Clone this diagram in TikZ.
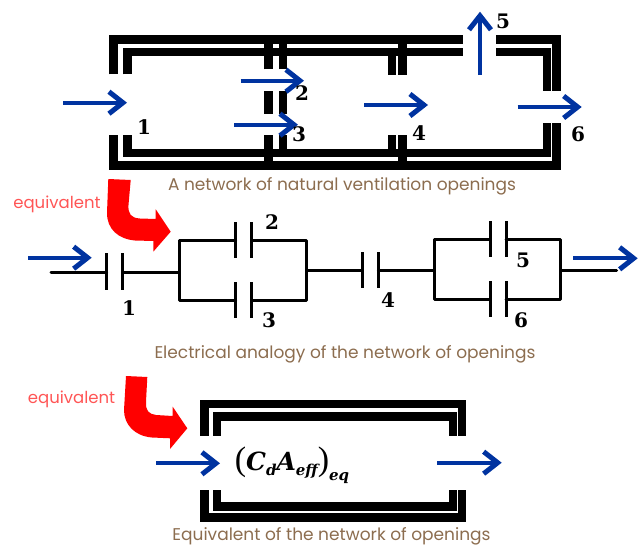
\documentclass[tikz,border=0pt]{standalone}
\usepackage{fontspec}
\setmainfont{Poppins}
\newfontfamily\lblfont{Liberation Serif}
\newfontfamily\formfont{DejaVu Serif}
\usetikzlibrary{arrows.meta}
\definecolor{flowblue}{HTML}{0033A0}
\definecolor{capbrown}{HTML}{8C6D4F}
\definecolor{eqred}{HTML}{FF5555}
\tikzset{
  wall/.style={line width=8.4pt,draw=black},
  wire/.style={line width=3pt,draw=black,line cap=round,line join=round},
  plate/.style={line width=3pt,draw=black},
  flow/.style={line width=4pt,draw=flowblue,-{Straight Barb[length=14pt,width=22pt,line width=5pt]}},
  redbend/.style={fill=red,draw=none},
  caption/.style={text=capbrown,font=\fontsize{17}{19}\selectfont,inner sep=0pt},
  eqtext/.style={text=eqred,font=\fontsize{16.5}{18}\selectfont,inner sep=0pt},
  num/.style={font=\formfont\bfseries\fontsize{20}{22}\selectfont,inner sep=0pt}
}
\begin{document}
\begin{tikzpicture}[x=1pt,y=-1pt]
\useasboundingbox (0,0) rectangle (640,546);
% top network: outer and inner walls
\draw[wall] (113.5,74.3) -- (113.5,39.5) -- (463.3,39.5);
\draw[wall] (127.5,74.3) -- (127.5,52) -- (463.3,52);
\draw[wall] (496,39.5) -- (556.5,39.5) -- (556.5,90.7);
\draw[wall] (496,52) -- (547,52) -- (547,90.7);
\draw[wall] (113.5,135) -- (113.5,165.5) -- (556.5,165.5) -- (556.5,123);
\draw[wall] (127.5,135) -- (127.5,153) -- (547,153) -- (547,123);
% interior walls
\foreach \wx in {268.5,282.7}{
  \draw[wall] (\wx,69.3) -- (\wx,44);
  \draw[wall] (\wx,91) -- (\wx,114);
}
\draw[wall] (268.5,135) -- (268.5,170);
\draw[wall] (282.7,135) -- (282.7,157);
\draw[wall] (268.5,35) -- (268.5,69.3);
\draw[wall] (392,74.7) -- (392,48);
\draw[wall] (402.3,74.7) -- (402.3,35);
\draw[wall] (392,135) -- (392,157);
\draw[wall] (402.3,135) -- (402.3,170);
% top flows
\coordinate (f1a) at (63,102.7);  \coordinate (f1b) at (127,102.7);
\coordinate (f2a) at (240.7,80.7);\coordinate (f2b) at (304,80.7);
\coordinate (f3a) at (234,124.7); \coordinate (f3b) at (298,124.7);
\coordinate (f4a) at (364,105);   \coordinate (f4b) at (428,105);
\coordinate (f5a) at (480,75);    \coordinate (f5b) at (480,11.7);
\coordinate (f6a) at (517.7,107); \coordinate (f6b) at (581.7,107);
\draw[flow] (f1a) -- (f1b);
\draw[flow] (f2a) -- (f2b);
\draw[flow] (f3a) -- (f3b);
\draw[flow] (f4a) -- (f4b);
\draw[flow] (f5a) -- (f5b);
\draw[flow] (f6a) -- (f6b);
\node[num] (n1) at (144,127) {1};
\node[num] (n2) at (302,93) {2};
\node[num] (n3) at (299,134) {3};
\node[num] (n4) at (419,133) {4};
\node[num] (n5) at (503,21) {5};
\node[num] (n6) at (578,134) {6};
\node[caption] (cap1) at (342,186) {A network of natural ventilation openings};
% first bend arrow
\path[redbend] (108.3,179) -- (130.7,180) -- (128.5,205)
  .. controls (128,214) and (131,218) .. (140,218.5)
  -- (155.7,219) -- (155.7,209.3) -- (170.7,231.7) -- (153.3,251.7) -- (153.5,241)
  -- (135,240.5) .. controls (118,239) and (107,229) .. (107,213) -- cycle;
\node[eqtext] (eq1) at (57,204) {equivalent};
% circuit
\coordinate (inL) at (51,272);
\coordinate (c1a) at (106.7,272); \coordinate (c1b) at (122.7,272);
\coordinate (j1) at (179,272);
\coordinate (j2) at (306.7,270.7);
\coordinate (c4a) at (362.3,270.7); \coordinate (c4b) at (378.3,270.7);
\coordinate (j3) at (434,270.7);
\coordinate (j4) at (560.7,270.7);
\coordinate (outR) at (616.7,270.7);
\draw[wire] (inL) -- (c1a);
\draw[wire] (c1b) -- (j1);
\draw[wire] (j2) -- (c4a);
\draw[wire] (c4b) -- (j3);
\draw[wire] (j4) -- (outR);
\draw[plate] (106.7,253) -- (106.7,290);
\draw[plate] (122.7,253) -- (122.7,290);
\draw[plate] (362.3,252.3) -- (362.3,288.3);
\draw[plate] (378.3,252.3) -- (378.3,288.3);
% parallel branches 2/3
\draw[wire] (235.7,240.7) -- (179,240.7) -- (179,300.7) -- (235.7,300.7);
\draw[wire] (251.7,240.7) -- (306.7,240.7) -- (306.7,300.7) -- (251.7,300.7);
\draw[plate] (235.7,222) -- (235.7,258);
\draw[plate] (251.7,222) -- (251.7,258);
\draw[plate] (235.7,282.3) -- (235.7,318.3);
\draw[plate] (251.7,282.3) -- (251.7,318.3);
% parallel branches 5/6
\draw[wire] (490,239.7) -- (434,239.7) -- (434,299.3) -- (490,299.3);
\draw[wire] (506,239.7) -- (560.7,239.7) -- (560.7,299.3) -- (506,299.3);
\draw[plate] (490,221.3) -- (490,257.3);
\draw[plate] (506,221.3) -- (506,257.3);
\draw[plate] (490,281) -- (490,317.3);
\draw[plate] (506,281) -- (506,317.3);
\coordinate (f7a) at (28,257.7);    \coordinate (f7b) at (91.7,257.7);
\coordinate (f8a) at (573.3,258.3); \coordinate (f8b) at (637.7,258.3);
\draw[flow] (f7a) -- (f7b);
\draw[flow] (f8a) -- (f8b);
\node[num] (m1) at (129,308) {1};
\node[num] (m2) at (272,222) {2};
\node[num] (m3) at (269,320) {3};
\node[num] (m4) at (388,300) {4};
\node[num] (m5) at (523,260) {5};
\node[num] (m6) at (521,320) {6};
\node[caption] (cap2) at (345,354) {Electrical analogy of the network of openings};
% second bend arrow
\path[redbend] (126,376) -- (147.3,377) -- (146,402)
  .. controls (145.5,411) and (149,414) .. (156,415)
  -- (172.7,416) -- (172.7,406.7) -- (187.3,428.3) -- (170,449) -- (170,438.3)
  -- (152,437.5) .. controls (134,436) and (124,424) .. (124,410) -- cycle;
\node[eqtext] (eq2) at (71.5,399) {equivalent};
% equivalent opening
\draw[wall] (204.3,435.7) -- (204.3,404) -- (462,404) -- (462,435.7);
\draw[wall] (216.7,435.7) -- (216.7,416.3) -- (452.7,416.3) -- (452.7,435.7);
\draw[wall] (204.3,490) -- (204.3,517.5) -- (462,517.5) -- (462,490);
\draw[wall] (216.7,490) -- (216.7,506.3) -- (452.7,506.3) -- (452.7,490);
\coordinate (f9a) at (156,463.3);    \coordinate (f9b) at (220,463.3);
\coordinate (f10a) at (437.3,462.7); \coordinate (f10b) at (501.7,462.7);
\draw[flow] (f9a) -- (f9b);
\draw[flow] (f10a) -- (f10b);
\node[inner sep=0pt,font=\formfont\bfseries\itshape\fontsize{25}{28}\selectfont] (formula) at (292,465)
  {{\lblfont\mdseries\upshape\fontsize{34}{34}\selectfont(}C\raisebox{-5pt}{\fontsize{15}{15}\selectfont d}A\raisebox{-5pt}{\fontsize{15}{15}\selectfont eff}{\lblfont\mdseries\upshape\fontsize{34}{34}\selectfont)}\raisebox{-10pt}{\fontsize{15}{15}\selectfont eq}};
\node[caption] (cap3) at (331.5,536) {Equivalent of the network of openings};
\end{tikzpicture}
\end{document}
